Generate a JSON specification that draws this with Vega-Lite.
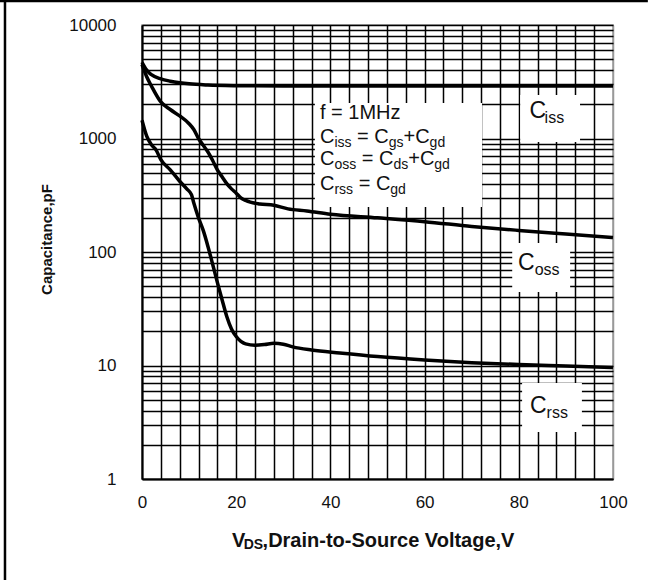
{
  "$schema": "https://vega.github.io/schema/vega-lite/v6.json",
  "width": 471,
  "height": 454,
  "autosize": {"type": "none"},
  "padding": {"left": 142, "top": 25, "right": 41, "bottom": 101},
  "background": "white",
  "config": {
    "view": {"stroke": "#999", "strokeWidth": 1.5},
    "font": "Liberation Sans"
  },
  "datasets": {
    "curves": [
      {"series": "Ciss", "v": 0, "c": 4700}, {"series": "Ciss", "v": 1, "c": 4000}, {"series": "Ciss", "v": 2, "c": 3650},
      {"series": "Ciss", "v": 4, "c": 3350}, {"series": "Ciss", "v": 6, "c": 3200}, {"series": "Ciss", "v": 8, "c": 3100},
      {"series": "Ciss", "v": 10, "c": 3030}, {"series": "Ciss", "v": 14, "c": 2960}, {"series": "Ciss", "v": 20, "c": 2920},
      {"series": "Ciss", "v": 30, "c": 2900}, {"series": "Ciss", "v": 50, "c": 2900}, {"series": "Ciss", "v": 70, "c": 2900},
      {"series": "Ciss", "v": 100, "c": 2900},
      {"series": "Coss", "v": 0, "c": 4500}, {"series": "Coss", "v": 1, "c": 3500}, {"series": "Coss", "v": 2, "c": 2900},
      {"series": "Coss", "v": 4, "c": 2100}, {"series": "Coss", "v": 6, "c": 1800}, {"series": "Coss", "v": 8, "c": 1580},
      {"series": "Coss", "v": 10, "c": 1350}, {"series": "Coss", "v": 11, "c": 1200}, {"series": "Coss", "v": 12, "c": 1000},
      {"series": "Coss", "v": 13, "c": 870}, {"series": "Coss", "v": 14, "c": 760}, {"series": "Coss", "v": 15, "c": 640},
      {"series": "Coss", "v": 16, "c": 530}, {"series": "Coss", "v": 17, "c": 460}, {"series": "Coss", "v": 18, "c": 400},
      {"series": "Coss", "v": 19, "c": 360}, {"series": "Coss", "v": 20, "c": 330}, {"series": "Coss", "v": 21, "c": 300},
      {"series": "Coss", "v": 22, "c": 285}, {"series": "Coss", "v": 23, "c": 275}, {"series": "Coss", "v": 25, "c": 265},
      {"series": "Coss", "v": 28, "c": 258}, {"series": "Coss", "v": 31, "c": 240}, {"series": "Coss", "v": 35, "c": 230},
      {"series": "Coss", "v": 40, "c": 215}, {"series": "Coss", "v": 50, "c": 200}, {"series": "Coss", "v": 60, "c": 185},
      {"series": "Coss", "v": 70, "c": 168}, {"series": "Coss", "v": 80, "c": 155}, {"series": "Coss", "v": 90, "c": 144},
      {"series": "Coss", "v": 100, "c": 134},
      {"series": "Crss", "v": 0, "c": 1450}, {"series": "Crss", "v": 1, "c": 1050}, {"series": "Crss", "v": 2, "c": 880},
      {"series": "Crss", "v": 3, "c": 790}, {"series": "Crss", "v": 4, "c": 650}, {"series": "Crss", "v": 6, "c": 530},
      {"series": "Crss", "v": 8, "c": 420}, {"series": "Crss", "v": 9.5, "c": 360}, {"series": "Crss", "v": 10.5, "c": 320},
      {"series": "Crss", "v": 11, "c": 270}, {"series": "Crss", "v": 12, "c": 200}, {"series": "Crss", "v": 13, "c": 155},
      {"series": "Crss", "v": 14, "c": 112}, {"series": "Crss", "v": 15, "c": 78}, {"series": "Crss", "v": 16, "c": 54},
      {"series": "Crss", "v": 17, "c": 38}, {"series": "Crss", "v": 18, "c": 27}, {"series": "Crss", "v": 19, "c": 21},
      {"series": "Crss", "v": 20, "c": 18}, {"series": "Crss", "v": 21, "c": 16.3}, {"series": "Crss", "v": 22, "c": 15.5},
      {"series": "Crss", "v": 24, "c": 15.1}, {"series": "Crss", "v": 26, "c": 15.3}, {"series": "Crss", "v": 28, "c": 15.7},
      {"series": "Crss", "v": 30, "c": 15.4}, {"series": "Crss", "v": 32, "c": 14.6}, {"series": "Crss", "v": 36, "c": 13.7},
      {"series": "Crss", "v": 42, "c": 12.9}, {"series": "Crss", "v": 50, "c": 12}, {"series": "Crss", "v": 60, "c": 11.2},
      {"series": "Crss", "v": 70, "c": 10.6}, {"series": "Crss", "v": 80, "c": 10.2}, {"series": "Crss", "v": 90, "c": 9.9},
      {"series": "Crss", "v": 100, "c": 9.6}
    ],
    "boxes": [
      {"v1": 36.7, "v2": 72.2, "c1": 249, "c2": 2055},
      {"v1": 80.3, "v2": 93, "c1": 931, "c2": 2416},
      {"v1": 78.6, "v2": 90.9, "c1": 44.4, "c2": 120},
      {"v1": 80.7, "v2": 93.4, "c1": 2.6, "c2": 7.0}
    ],
    "frame": [
      {"v1": -29.09, "v2": -29.09, "c1": 0.129, "c2": 16500},
      {"v1": -30.15, "v2": 107.4, "c1": 16273, "c2": 16273}
    ],
    "texts": [
      {"v": 37.79, "c": 1486, "t": "f = 1MHz", "k": "m"},
      {"v": 37.79, "c": 913, "t": "C", "k": "m"},
      {"v": 40.85, "c": 913, "t": "iss", "k": "s"},
      {"v": 45.66, "c": 913, "t": "= C", "k": "m"},
      {"v": 52.38, "c": 913, "t": "gs", "k": "s"},
      {"v": 55.52, "c": 913, "t": "+C", "k": "m"},
      {"v": 61.06, "c": 913, "t": "gd", "k": "s"},
      {"v": 37.79, "c": 584, "t": "C", "k": "m"},
      {"v": 40.85, "c": 584, "t": "oss", "k": "s"},
      {"v": 46.66, "c": 584, "t": "= C", "k": "m"},
      {"v": 53.38, "c": 584, "t": "ds", "k": "s"},
      {"v": 56.52, "c": 584, "t": "+C", "k": "m"},
      {"v": 62.06, "c": 584, "t": "gd", "k": "s"},
      {"v": 37.79, "c": 352, "t": "C", "k": "m"},
      {"v": 40.85, "c": 352, "t": "rss", "k": "s"},
      {"v": 46.0, "c": 352, "t": "= C", "k": "m"},
      {"v": 52.72, "c": 352, "t": "gd", "k": "s"},
      {"v": 82.25, "c": 1517, "t": "C", "k": "B"},
      {"v": 85.48, "c": 1517, "t": "iss", "k": "b"},
      {"v": 79.83, "c": 69.4, "t": "C", "k": "B"},
      {"v": 83.36, "c": 69.4, "t": "oss", "k": "b"},
      {"v": 82.38, "c": 3.815, "t": "C", "k": "B"},
      {"v": 85.9, "c": 3.815, "t": "rss", "k": "b"},
      {"v": 19.11, "c": 0.2518, "t": "V", "k": "T"},
      {"v": 21.6, "c": 0.2518, "t": "DS", "k": "t"},
      {"v": 25.6, "c": 0.2518, "t": ",Drain-to-Source Voltage,V", "k": "T"}
    ]
  },
  "encoding": {
    "x": {
      "field": "v", "type": "quantitative",
      "scale": {"domain": [0, 100], "nice": false, "zero": false},
      "axis": {
        "title": null,
        "values": [0,4,8,12,16,20,24,28,32,36,40,44,48,52,56,60,64,68,72,76,80,84,88,92,96,100],
        "labelExpr": "datum.value % 20 === 0 ? format(datum.value, 'd') : ''",
        "labelFont": "Liberation Sans", "labelFontSize": 17, "labelColor": "#111",
        "labelPadding": 15, "labelFlush": false, "labelOverlap": false, "labelBound": false,
        "ticks": false, "tickSize": 0,
        "domainColor": "#000", "domainWidth": 2,
        "grid": true,
        "gridColor": {"condition": {"test": "datum.value === 100", "value": "#999"}, "value": "#000"},
        "gridWidth": 1.5, "gridOpacity": 1
      }
    },
    "y": {
      "field": "c", "type": "quantitative",
      "scale": {"type": "log", "domain": [1, 10000], "nice": false},
      "axis": {
        "title": "Capacitance,pF",
        "titleFont": "Liberation Sans", "titleFontSize": 15, "titleFontWeight": "bold", "titleColor": "#111",
        "titlePadding": 14, "titleY": 214,
        "values": [1,2,3,4,5,6,7,8,9,10,20,30,40,50,60,70,80,90,100,200,300,400,500,600,700,800,900,1000,2000,3000,4000,5000,6000,7000,8000,9000,10000],
        "labelExpr": "(datum.value === 1 || datum.value === 10 || datum.value === 100 || datum.value === 1000 || datum.value === 10000) ? format(datum.value, 'd') : ''",
        "labelFont": "Liberation Sans", "labelFontSize": 17, "labelColor": "#111",
        "labelPadding": 26, "labelOverlap": false, "labelBound": false,
        "ticks": false, "tickSize": 0,
        "domainColor": "#000", "domainWidth": 2,
        "grid": true, "gridColor": "#000", "gridWidth": 1.5, "gridOpacity": 1
      }
    }
  },
  "layer": [
    {
      "data": {"name": "frame"},
      "mark": {"type": "rule", "color": "#000", "strokeWidth": 2.5, "clip": false},
      "encoding": {
        "x": {"field": "v1", "type": "quantitative"},
        "x2": {"field": "v2"},
        "y": {"field": "c1", "type": "quantitative"},
        "y2": {"field": "c2"}
      }
    },
    {
      "data": {"name": "boxes"},
      "mark": {"type": "rect", "fill": "white", "stroke": null},
      "encoding": {
        "x": {"field": "v1", "type": "quantitative"},
        "x2": {"field": "v2"},
        "y": {"field": "c1", "type": "quantitative"},
        "y2": {"field": "c2"}
      }
    },
    {
      "data": {"name": "curves"},
      "mark": {"type": "line", "color": "#000", "strokeWidth": 3.5, "interpolate": "monotone"},
      "encoding": {"detail": {"field": "series"}}
    },
    {
      "data": {"name": "texts"},
      "transform": [{"filter": "datum.k === 'm'"}],
      "mark": {"type": "text", "align": "left", "baseline": "alphabetic", "fontSize": 20, "font": "Liberation Sans", "color": "#111", "clip": false},
      "encoding": {"text": {"field": "t"}}
    },
    {
      "data": {"name": "texts"},
      "transform": [{"filter": "datum.k === 's'"}],
      "mark": {"type": "text", "align": "left", "baseline": "alphabetic", "fontSize": 14, "dy": 4, "font": "Liberation Sans", "color": "#111", "clip": false},
      "encoding": {"text": {"field": "t"}}
    },
    {
      "data": {"name": "texts"},
      "transform": [{"filter": "datum.k === 'B'"}],
      "mark": {"type": "text", "align": "left", "baseline": "alphabetic", "fontSize": 23, "font": "Liberation Sans", "color": "#111", "clip": false},
      "encoding": {"text": {"field": "t"}}
    },
    {
      "data": {"name": "texts"},
      "transform": [{"filter": "datum.k === 'b'"}],
      "mark": {"type": "text", "align": "left", "baseline": "alphabetic", "fontSize": 16, "dy": 5, "font": "Liberation Sans", "color": "#111", "clip": false},
      "encoding": {"text": {"field": "t"}}
    },
    {
      "data": {"name": "texts"},
      "transform": [{"filter": "datum.k === 'T'"}],
      "mark": {"type": "text", "align": "left", "baseline": "alphabetic", "fontSize": 20, "fontWeight": "bold", "font": "Liberation Sans", "color": "#111", "clip": false},
      "encoding": {"text": {"field": "t"}}
    },
    {
      "data": {"name": "texts"},
      "transform": [{"filter": "datum.k === 't'"}],
      "mark": {"type": "text", "align": "left", "baseline": "alphabetic", "fontSize": 14, "fontWeight": "bold", "dy": 2, "font": "Liberation Sans", "color": "#111", "clip": false},
      "encoding": {"text": {"field": "t"}}
    }
  ]
}
